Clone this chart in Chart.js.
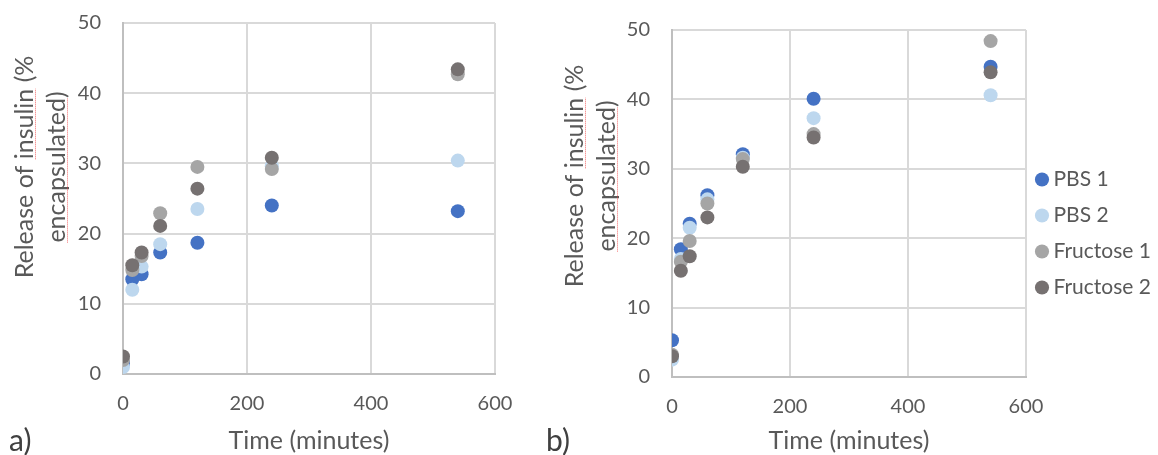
<!DOCTYPE html>
<html>
<head>
<meta charset="utf-8">
<script src="https://cdn.jsdelivr.net/npm/chart.js@4.4.1/dist/chart.umd.min.js"></script>
<style>
  body { margin: 0; background: #fff; width: 1158px; height: 455px; overflow: hidden; position: relative; font-family: Lato, sans-serif; }
  .box { position: absolute; top: 0; height: 455px; }
  #boxA { left: 0; width: 520px; }
  #boxB { left: 540px; width: 618px; }
  .tag { position: absolute; top: 421px; font-size: 30px; color: #404040; }
</style>
</head>
<body>
<div class="box" id="boxA"><canvas id="chartA"></canvas></div>
<div class="box" id="boxB"><canvas id="chartB"></canvas></div>
<div class="tag" style="left:9px">a)</div>
<div class="tag" style="left:546px">b)</div>
<script>
const times = [0, 15, 30, 60, 120, 240, 540];
const seriesNames = ['PBS 1', 'PBS 2', 'Fructose 1', 'Fructose 2'];
const seriesColors = ['#4472c4', '#bdd7ee', '#a5a5a5', '#767171'];

// chart a)
const pbs1A = [1.5, 13.5, 14.2, 17.3, 18.7, 24.0, 23.2];
const pbs2A = [1.0, 12.0, 15.3, 18.5, 23.5, 29.6, 30.4];
const fru1A = [2.0, 14.8, 16.8, 22.9, 29.5, 29.2, 42.7];
const fru2A = [2.5, 15.5, 17.3, 21.1, 26.4, 30.8, 43.4];

// chart b)
const pbs1B = [5.3, 18.4, 22.1, 26.2, 32.1, 40.1, 44.7];
const pbs2B = [2.5, 17.0, 21.5, 25.6, 31.6, 37.3, 40.6];
const fru1B = [3.2, 16.6, 19.6, 25.0, 31.4, 35.0, 48.4];
const fru2B = [3.0, 15.3, 17.4, 23.0, 30.3, 34.5, 43.9];

const xTicks = [0, 200, 400, 600];
const yTicks = [0, 10, 20, 30, 40, 50];
const yTitleLines = ['Release of insulin (%', 'encapsulated)'];
const xTitle = 'Time (minutes)';

const textColor = '#595959';
const font = { family: 'Lato', size: 20 };
const titleFont = '25px Lato';

// y axis title drawn by hand: two centred lines, with the red spell-check dots
const yTitlePlugin = {
  id: 'yTitle',
  afterDraw(chart) {
    const o = chart.options.plugins.yTitle;
    const ctx = chart.ctx;
    ctx.save();
    ctx.font = titleFont;
    ctx.fillStyle = textColor;
    ctx.textAlign = 'center';
    ctx.textBaseline = 'alphabetic';
    const marks = [['Release of ', 'insulin'], ['', 'encapsulated']];
    yTitleLines.forEach((line, i) => {
      ctx.save();
      ctx.translate(o.x[i], o.cy);
      ctx.rotate(-Math.PI / 2);
      ctx.fillText(line, 0, 0);
      const w = ctx.measureText(line).width;
      const s = -w / 2 + ctx.measureText(marks[i][0]).width;
      const e = s + ctx.measureText(marks[i][1]).width;
      ctx.strokeStyle = 'rgba(240, 60, 60, 0.75)';
      ctx.lineWidth = 1;
      ctx.setLineDash([1, 1]);
      ctx.beginPath();
      ctx.moveTo(s, 2.5);
      ctx.lineTo(e, 2.5);
      ctx.stroke();
      ctx.restore();
    });
    ctx.restore();
  }
};

// nudge the legend next to the plot, as in the original
const legendShift = {
  id: 'legendShift',
  afterLayout(chart) {
    const o = chart.options.plugins.legendShift;
    if (!chart.legend || !o) { return; }
    chart.legend.left += o.dx; chart.legend.right += o.dx;
    chart.legend.top += o.dy; chart.legend.bottom += o.dy;
  }
};

function makeDatasets(list) {
  return list.map((vals, i) => ({
    label: seriesNames[i],
    data: vals.map((v, j) => ({ x: times[j], y: v })),
    backgroundColor: seriesColors[i],
    borderColor: seriesColors[i],
    borderWidth: 0,
    pointRadius: 7,
    order: list.length - i // last series on top, like Excel
  }));
}

function makeChart(canvas, lists, opts) {
  return new Chart(canvas, {
    type: 'scatter',
    data: { datasets: makeDatasets(lists) },
    plugins: [yTitlePlugin, legendShift],
    options: {
      responsive: true,
      maintainAspectRatio: false,
      animation: false,
      layout: { autoPadding: false, padding: { top: opts.top, right: opts.right, left: 0, bottom: 0 } },
      plugins: {
        tooltip: { enabled: false },
        yTitle: { x: opts.titleX, cy: opts.titleY },
        legendShift: { dx: 0, dy: -9 },
        legend: {
          display: opts.legend,
          position: 'right',
          maxWidth: 132,
          labels: {
            usePointStyle: true,
            pointStyle: 'circle',
            boxWidth: 2,
            boxHeight: 10,
            padding: 15,
            color: textColor,
            font: { family: 'Lato', size: 21 },
            sort: (a, b) => a.datasetIndex - b.datasetIndex
          }
        }
      },
      scales: {
        x: {
          type: 'linear',
          min: 0,
          max: 600,
          afterBuildTicks: (s) => { s.ticks = xTicks.map((v) => ({ value: v })); },
          afterFit: (s) => { s.height = opts.xHeight; s.paddingLeft = 0; s.paddingRight = 0; },
          ticks: { color: textColor, font: font, padding: 18 },
          grid: { color: '#d9d9d9', lineWidth: 2, drawTicks: false },
          border: { color: '#bfbfbf', width: 2 },
          title: { display: true, text: xTitle, color: textColor, font: { family: 'Lato', size: 25 }, padding: { top: 0, bottom: -1 } }
        },
        y: {
          min: 0,
          max: 50,
          afterBuildTicks: (s) => { s.ticks = yTicks.map((v) => ({ value: v })); },
          afterFit: (s) => { s.width = opts.yWidth; s.paddingTop = 0; s.paddingBottom = 0; },
          ticks: { color: textColor, font: font, padding: 22 },
          grid: { color: '#d9d9d9', lineWidth: 2, drawTicks: false },
          border: { color: '#bfbfbf', width: 2 }
        }
      }
    }
  });
}

makeChart(document.getElementById('chartA'), [pbs1A, pbs2A, fru1A, fru2A],
  { top: 23, right: 25, legend: false, xHeight: 81, yWidth: 123, titleX: [33, 65], titleY: 167 });
makeChart(document.getElementById('chartB'), [pbs1B, pbs2B, fru1B, fru2B],
  { top: 30, right: 0, legend: true, xHeight: 78, yWidth: 132, titleX: [43, 75], titleY: 176 });
</script>
</body>
</html>
